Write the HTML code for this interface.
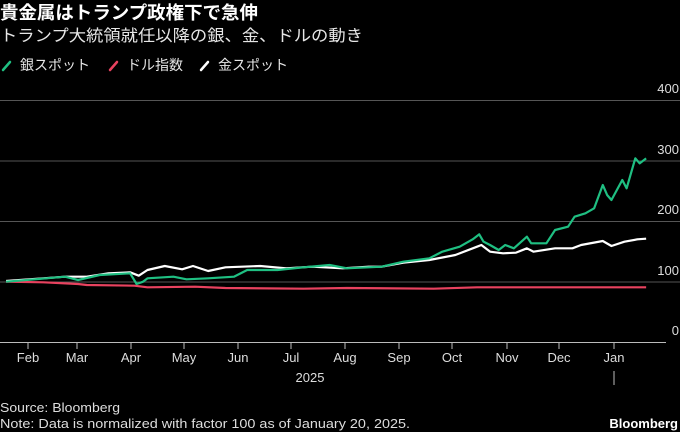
<!DOCTYPE html>
<html><head><meta charset="utf-8"><style>
html,body{margin:0;padding:0;background:#000;}
svg{display:block;font-family:"Liberation Sans","Noto Sans CJK JP",sans-serif;}
</style></head><body>
<svg width="680" height="432" viewBox="0 0 680 432" xmlns="http://www.w3.org/2000/svg">
<rect width="680" height="432" fill="#000"/>
<text x="0" y="19" fill="#fff" font-size="18" font-weight="bold" textLength="258" lengthAdjust="spacingAndGlyphs">貴金属はトランプ政権下で急伸</text>
<text x="0" y="41" fill="#e6e6e6" font-size="16" textLength="363" lengthAdjust="spacingAndGlyphs">トランプ大統領就任以降の銀、金、ドルの動き</text>
<g stroke-width="2.5" stroke-linecap="round">
<line x1="3" y1="70" x2="10" y2="62" stroke="#1fbf82"/>
<line x1="110" y1="70" x2="117" y2="62" stroke="#e8425f"/>
<line x1="201" y1="70" x2="208" y2="62" stroke="#fff"/>
</g>
<g fill="#e6e6e6" font-size="14">
<text x="20" y="70">銀スポット</text>
<text x="127" y="70">ドル指数</text>
<text x="218" y="70">金スポット</text>
</g>
<g stroke="#555" stroke-width="1">
<line x1="0" y1="100.5" x2="680" y2="100.5"/>
<line x1="0" y1="161" x2="680" y2="161"/>
<line x1="0" y1="221.5" x2="680" y2="221.5"/>
<line x1="0" y1="282" x2="680" y2="282"/>
</g>
<line x1="0" y1="342.5" x2="666" y2="342.5" stroke="#bbb" stroke-width="1"/>
<g fill="#ddd" font-size="13" text-anchor="end">
<text x="679" y="93">400</text><text x="679" y="154">300</text><text x="679" y="214">200</text><text x="679" y="275">100</text><text x="679" y="335">0</text>
</g>
<g stroke="#bbb" stroke-width="1">
<line x1="28" y1="342" x2="28" y2="349"/><line x1="77" y1="342" x2="77" y2="349"/><line x1="131" y1="342" x2="131" y2="349"/><line x1="184" y1="342" x2="184" y2="349"/><line x1="238" y1="342" x2="238" y2="349"/><line x1="291" y1="342" x2="291" y2="349"/><line x1="345" y1="342" x2="345" y2="349"/><line x1="399" y1="342" x2="399" y2="349"/><line x1="452" y1="342" x2="452" y2="349"/><line x1="507" y1="342" x2="507" y2="349"/><line x1="559" y1="342" x2="559" y2="349"/><line x1="614" y1="342" x2="614" y2="349"/>
<line x1="614" y1="371" x2="614" y2="385"/>
</g>
<g fill="#ddd" font-size="13" text-anchor="middle">
<text x="28" y="362">Feb</text><text x="77" y="362">Mar</text><text x="131" y="362">Apr</text><text x="184" y="362">May</text><text x="238" y="362">Jun</text><text x="291" y="362">Jul</text><text x="345" y="362">Aug</text><text x="399" y="362">Sep</text><text x="452" y="362">Oct</text><text x="507" y="362">Nov</text><text x="559" y="362">Dec</text><text x="614" y="362">Jan</text>
<text x="310" y="382">2025</text>
</g>
<g transform="translate(0,80) scale(0.43365,0.33333)" fill="none" stroke-width="2.2" stroke-linejoin="round">
<polyline vector-effect="non-scaling-stroke" stroke="#e8425f" points="14,605 100,607 180,612 200,615 310,617 340,622 450,620 520,624 700,626 800,624 1000,626 1100,622 1300,622 1490,622"/>
<polyline vector-effect="non-scaling-stroke" stroke="#fff" points="14,603 100,595 150,590 200,590 250,580 300,577 320,587 340,570 380,558 420,568 445,558 480,573 520,562 600,558 660,565 720,560 790,565 850,560 880,560 930,548 990,540 1050,525 1100,500 1110,495 1130,515 1160,520 1190,518 1215,505 1230,515 1280,505 1320,505 1340,495 1390,483 1410,498 1440,485 1470,478 1490,476"/>
<polyline vector-effect="non-scaling-stroke" stroke="#1fbf82" points="14,605 80,598 150,590 180,600 230,585 300,580 315,612 330,605 340,595 400,590 430,598 480,595 540,590 570,570 640,570 700,562 760,555 800,565 880,560 930,545 990,535 1020,515 1060,500 1090,478 1105,463 1115,485 1130,495 1150,510 1165,495 1185,505 1215,470 1225,490 1260,490 1280,450 1310,440 1325,410 1350,400 1370,385 1390,315 1400,345 1410,360 1435,300 1445,325 1465,235 1475,250 1490,235"/>
</g>
<g fill="#ddd" font-size="13">
<text x="0" y="412" textLength="120" lengthAdjust="spacingAndGlyphs">Source: Bloomberg</text>
<text x="0" y="428" textLength="410" lengthAdjust="spacingAndGlyphs">Note: Data is normalized with factor 100 as of January 20, 2025.</text>
</g>
<text x="678" y="428" fill="#fff" font-size="13" font-weight="bold" text-anchor="end">Bloomberg</text>
</svg>
</body></html>
